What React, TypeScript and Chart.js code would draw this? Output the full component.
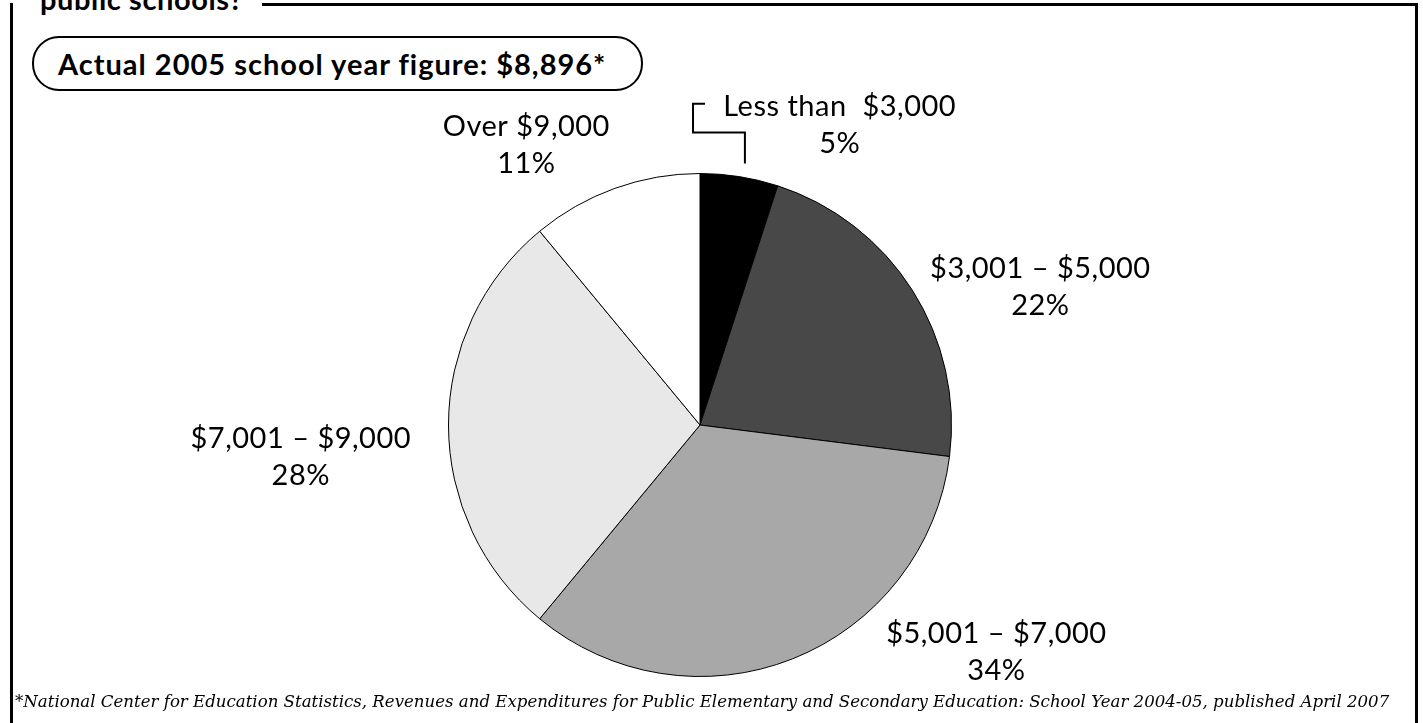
import React, { useEffect, useRef } from "react";
import { Chart, registerables } from "chart.js";

Chart.register(...registerables);

// ---- data ----
const categories = ["Less than  $3,000", "$3,001 – $5,000", "$5,001 – $7,000", "$7,001 – $9,000", "Over $9,000"];
const percentages = [5, 22, 34, 28, 11];
const sliceColors = ["#000000", "#484848", "#a8a8a8", "#e8e8e8", "#ffffff"];

const titleText = "public schools?";
const boxText = "Actual 2005 school year figure: $8,896*";
const footnote =
  "*National Center for Education Statistics, Revenues and Expenditures for Public Elementary and Secondary Education: School Year 2004-05, published April 2007";

// label anchors relative to pie centre, in pixels at a reference radius of 252
const labelOffsets: [number, number][] = [
  [140, -310],
  [341, -147],
  [297, 218],
  [-400, 23],
  [-174, -290],
];
const leaderPoints: [number, number][] = [
  [45, -262],
  [45, -293],
  [-7, -293],
  [-7, -322],
  [5, -322],
];

const LABEL_FONT = "29px Lato";
const LINE_GAP = 37;

const labelPlugin = {
  id: "sliceLabels",
  afterDatasetsDraw(chart: any) {
    const ctx = chart.ctx as CanvasRenderingContext2D;
    const meta = chart.getDatasetMeta(0);
    ctx.save();
    ctx.fillStyle = "#000";
    ctx.font = LABEL_FONT;
    (ctx as any).letterSpacing = "0.5px";
    ctx.textAlign = "center";
    ctx.textBaseline = "alphabetic";
    meta.data.forEach((arc: any, i: number) => {
      const { x, y, outerRadius } = arc.getProps(["x", "y", "outerRadius"], true);
      const s = outerRadius / 252;
      const [dx, dy] = labelOffsets[i];
      const cx = x + dx * s;
      const by = y + dy * s;
      ctx.fillText(categories[i], cx, by);
      ctx.fillText(percentages[i] + "%", cx, by + LINE_GAP);
      if (i === 0) {
        ctx.beginPath();
        leaderPoints.forEach(([px, py], k) => {
          const X = x + px * s;
          const Y = y + py * s;
          if (k === 0) ctx.moveTo(X, Y);
          else ctx.lineTo(X, Y);
        });
        ctx.lineWidth = 2;
        ctx.strokeStyle = "#000";
        ctx.stroke();
      }
    });
    ctx.restore();
  },
};

function PieChart() {
  const ref = useRef<HTMLCanvasElement | null>(null);
  useEffect(() => {
    let chart: Chart | null = null;
    let cancelled = false;
    const make = () => {
      if (cancelled || !ref.current) return;
      chart = new Chart(ref.current, {
        type: "pie",
        data: {
          labels: categories,
          datasets: [
            {
              data: percentages,
              backgroundColor: sliceColors,
              borderColor: "#000",
              borderWidth: 1,
            },
          ],
        },
        options: {
          animation: false,
          responsive: false,
          devicePixelRatio: 1,
          layout: { padding: { left: 448, right: 471, top: 173, bottom: 46 } },
          plugins: { legend: { display: false }, tooltip: { enabled: false } },
        },
        plugins: [labelPlugin],
      });
    };
    const fonts: any = (document as any).fonts;
    if (fonts && fonts.load) {
      Promise.all([fonts.load(LABEL_FONT)]).then(make, make);
    } else make();
    return () => {
      cancelled = true;
      if (chart) chart.destroy();
    };
  }, []);
  return (
    <canvas
      ref={ref}
      width={1423}
      height={723}
      style={{ position: "absolute", left: 0, top: 0, width: 1423, height: 723 }}
    />
  );
}

export default function App() {
  return (
    <div
      style={{
        position: "fixed",
        left: 0,
        top: 0,
        width: 1423,
        height: 723,
        overflow: "hidden",
        background: "#fff",
        fontFamily: "Lato, sans-serif",
      }}
    >
      {/* frame */}
      <div
        style={{
          position: "absolute",
          left: 10,
          top: 3,
          width: 1402,
          height: 760,
          border: "3px solid #000",
        }}
      />
      {/* title (cut off at the top) */}
      <div
        style={{
          position: "absolute",
          left: 13,
          top: -15,
          width: 249,
          height: 27,
          background: "#fff",
        }}
      />
      <div
        style={{
          position: "absolute",
          left: 40,
          top: -16.2,
          fontSize: 29,
          lineHeight: "29px",
          letterSpacing: "0.6px",
          fontWeight: 700,
          whiteSpace: "nowrap",
          color: "#000",
        }}
      >
        {titleText}
      </div>
      {/* rounded box */}
      <div
        style={{
          position: "absolute",
          left: 32,
          top: 36,
          width: 607,
          height: 51,
          border: "2px solid #000",
          borderRadius: 27,
        }}
      />
      <div
        style={{
          position: "absolute",
          left: 58,
          top: 48.8,
          fontSize: 29,
          lineHeight: "29px",
          letterSpacing: "1px",
          fontWeight: 700,
          whiteSpace: "nowrap",
          color: "#000",
        }}
      >
        {boxText}
      </div>
      <PieChart />
      {/* footnote */}
      <div
        style={{
          position: "absolute",
          left: 15,
          top: 694,
          fontFamily: "'DejaVu Serif', serif",
          fontStyle: "italic",
          fontSize: 16.6,
          lineHeight: "16.6px",
          whiteSpace: "nowrap",
          color: "#000",
        }}
      >
        {footnote}
      </div>
    </div>
  );
}
